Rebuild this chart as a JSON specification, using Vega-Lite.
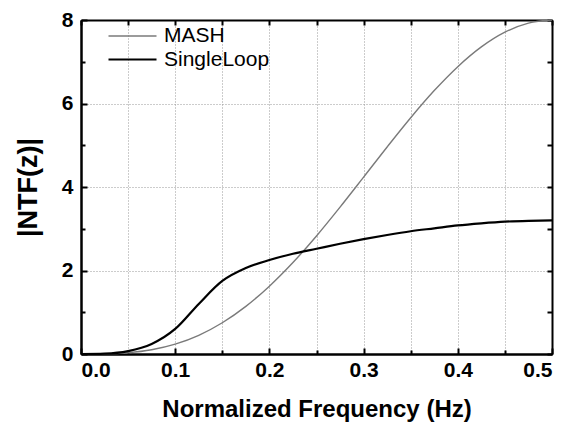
{
  "$schema": "https://vega.github.io/schema/vega-lite/v6.json",
  "width": 471,
  "height": 334,
  "autosize": {"type": "none"},
  "padding": {"left": 81, "top": 20, "right": 23, "bottom": 69},
  "background": "white",
  "config": {
    "view": {"stroke": null},
    "font": "Liberation Sans",
    "axis": {
      "domainColor": "black",
      "domainWidth": 2,
      "tickColor": "black",
      "tickWidth": 2,
      "labelFont": "Liberation Sans",
      "labelFontWeight": "bold",
      "labelFontSize": 21,
      "labelColor": "black",
      "titleFont": "Liberation Sans",
      "titleFontWeight": "bold",
      "titleFontSize": 24,
      "titleColor": "black",
      "gridColor": "#999999",
      "gridDash": [1, 2],
      "gridWidth": 1
    }
  },
  "data": {
    "values": [
      {"f": 0.0, "v": 0.0, "s": "MASH"},
      {"f": 0.025, "v": 0.004, "s": "MASH"},
      {"f": 0.05, "v": 0.031, "s": "MASH"},
      {"f": 0.075, "v": 0.102, "s": "MASH"},
      {"f": 0.1, "v": 0.236, "s": "MASH"},
      {"f": 0.125, "v": 0.448, "s": "MASH"},
      {"f": 0.15, "v": 0.749, "s": "MASH"},
      {"f": 0.175, "v": 1.141, "s": "MASH"},
      {"f": 0.2, "v": 1.625, "s": "MASH"},
      {"f": 0.225, "v": 2.191, "s": "MASH"},
      {"f": 0.25, "v": 2.828, "s": "MASH"},
      {"f": 0.275, "v": 3.518, "s": "MASH"},
      {"f": 0.3, "v": 4.236, "s": "MASH"},
      {"f": 0.325, "v": 4.959, "s": "MASH"},
      {"f": 0.35, "v": 5.659, "s": "MASH"},
      {"f": 0.375, "v": 6.309, "s": "MASH"},
      {"f": 0.4, "v": 6.882, "s": "MASH"},
      {"f": 0.425, "v": 7.355, "s": "MASH"},
      {"f": 0.45, "v": 7.708, "s": "MASH"},
      {"f": 0.475, "v": 7.926, "s": "MASH"},
      {"f": 0.5, "v": 8.0, "s": "MASH"},
      {"f": 0.0, "v": 0.0, "s": "SingleLoop"},
      {"f": 0.025, "v": 0.01, "s": "SingleLoop"},
      {"f": 0.05, "v": 0.07, "s": "SingleLoop"},
      {"f": 0.075, "v": 0.24, "s": "SingleLoop"},
      {"f": 0.1, "v": 0.6, "s": "SingleLoop"},
      {"f": 0.125, "v": 1.2, "s": "SingleLoop"},
      {"f": 0.15, "v": 1.75, "s": "SingleLoop"},
      {"f": 0.175, "v": 2.06, "s": "SingleLoop"},
      {"f": 0.2, "v": 2.25, "s": "SingleLoop"},
      {"f": 0.225, "v": 2.4, "s": "SingleLoop"},
      {"f": 0.25, "v": 2.52, "s": "SingleLoop"},
      {"f": 0.275, "v": 2.64, "s": "SingleLoop"},
      {"f": 0.3, "v": 2.75, "s": "SingleLoop"},
      {"f": 0.325, "v": 2.85, "s": "SingleLoop"},
      {"f": 0.35, "v": 2.94, "s": "SingleLoop"},
      {"f": 0.375, "v": 3.01, "s": "SingleLoop"},
      {"f": 0.4, "v": 3.08, "s": "SingleLoop"},
      {"f": 0.425, "v": 3.13, "s": "SingleLoop"},
      {"f": 0.45, "v": 3.17, "s": "SingleLoop"},
      {"f": 0.475, "v": 3.19, "s": "SingleLoop"},
      {"f": 0.5, "v": 3.2, "s": "SingleLoop"}
    ]
  },
  "resolve": {"axis": {"x": "independent", "y": "independent"}},
  "layer": [
    {
      "mark": {"type": "line", "opacity": 0},
      "encoding": {
        "x": {"field": "f", "type": "quantitative", "scale": {"domain": [0, 0.5], "nice": false},
          "axis": {"orient": "bottom", "values": [0.05, 0.15, 0.25, 0.35, 0.45], "labels": false, "title": null, "tickSize": -4, "grid": true, "domain": true}},
        "y": {"field": "v", "type": "quantitative", "scale": {"domain": [0, 8], "nice": false},
          "axis": {"orient": "left", "values": [1, 3, 5, 7], "labels": false, "title": null, "tickSize": -4, "grid": false}}
      }
    },
    {
      "mark": {"type": "line", "opacity": 0},
      "encoding": {
        "x": {"field": "f", "type": "quantitative",
          "axis": {"orient": "top", "values": [0, 0.05, 0.1, 0.15, 0.2, 0.25, 0.3, 0.35, 0.4, 0.45, 0.5], "labels": false, "title": null, "tickSize": -5, "grid": false}},
        "y": {"field": "v", "type": "quantitative",
          "axis": {"orient": "right", "values": [0, 1, 2, 3, 4, 5, 6, 7, 8], "labels": false, "title": null, "tickSize": -5, "grid": false}}
      }
    },
    {
      "mark": {"type": "line", "interpolate": "monotone"},
      "encoding": {
        "x": {"field": "f", "type": "quantitative",
          "axis": {"orient": "bottom", "values": [0, 0.1, 0.2, 0.3, 0.4, 0.5], "format": ".1f", "tickSize": -6, "labelPadding": 11, "grid": true,
            "title": "Normalized Frequency (Hz)", "titlePadding": 17}},
        "y": {"field": "v", "type": "quantitative",
          "axis": {"orient": "left", "values": [0, 2, 4, 6, 8], "format": "d", "tickSize": -6, "labelPadding": 14, "grid": true,
            "title": "|NTF(z)|", "titleFontSize": 27, "titlePadding": 19}},
        "color": {"field": "s", "type": "nominal",
          "scale": {"domain": ["MASH", "SingleLoop"], "range": ["#7a7a7a", "#000000"]},
          "legend": {"title": null, "orient": "none", "legendX": 38, "legendY": 3, "symbolType": "M-2,0H2", "symbolSize": 576, "symbolStrokeWidth": 1.8,
            "labelFont": "Liberation Sans", "labelFontSize": 21, "labelColor": "black", "rowPadding": -2, "labelOffset": 18}},
        "strokeWidth": {"field": "s", "type": "nominal", "scale": {"domain": ["MASH", "SingleLoop"], "range": [1.4, 2.2]}, "legend": null}
      }
    }
  ]
}
